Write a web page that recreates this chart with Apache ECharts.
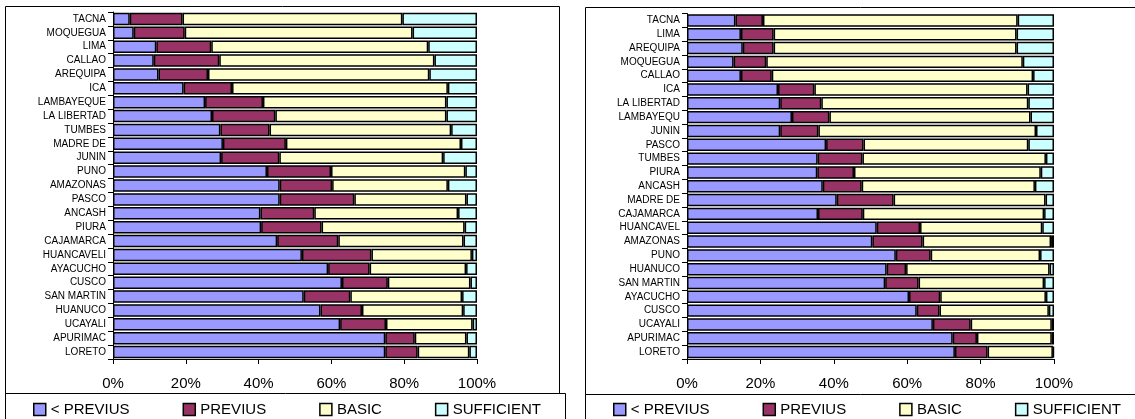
<!DOCTYPE html>
<html>
<head>
<meta charset="utf-8">
<style>
  html, body { margin: 0; padding: 0; background: #fff; }
  #chart { width: 1135px; height: 419px; }
</style>
<script src="https://cdn.jsdelivr.net/npm/echarts@6/dist/echarts.min.js"></script>
</head>
<body>
<div id="chart"></div>
<script>
// Achievement levels (%) by region, two periods, sorted top to bottom
const levels = ['< PREVIUS', 'PREVIUS', 'BASIC', 'SUFFICIENT'];
const levelColors = ['#9999FF', '#993366', '#FFFFCC', '#CCFFFF'];
const tickLabels = ['0%', '20%', '40%', '60%', '80%', '100%'];

// Left panel
const regionsA = ['TACNA', 'MOQUEGUA', 'LIMA', 'CALLAO', 'AREQUIPA', 'ICA', 'LAMBAYEQUE', 'LA LIBERTAD',
  'TUMBES', 'MADRE DE', 'JUNIN', 'PUNO', 'AMAZONAS', 'PASCO', 'ANCASH', 'PIURA', 'CAJAMARCA',
  'HUANCAVELI', 'AYACUCHO', 'CUSCO', 'SAN MARTIN', 'HUANUCO', 'UCAYALI', 'APURIMAC', 'LORETO'];
const belowPreviusA = [4.6, 5.7, 11.9, 11.2, 12.5, 19.4, 25.3, 27.2, 29.5, 30.2, 29.7, 42.3, 45.8, 45.8,
  40.5, 40.7, 45.1, 51.9, 59.1, 62.9, 52.4, 57.0, 62.4, 74.8, 74.8];
const previusA = [14.5, 14.0, 15.1, 18.0, 13.6, 13.3, 15.9, 17.4, 13.5, 17.3, 16.0, 17.6, 14.4, 20.5,
  14.8, 16.6, 16.8, 19.1, 11.4, 12.6, 12.8, 11.4, 12.6, 8.1, 8.9];
const basicA = [60.4, 62.6, 59.6, 59.1, 60.8, 59.3, 50.4, 47.0, 49.9, 48.1, 45.0, 36.9, 31.8, 30.8,
  39.5, 39.3, 34.4, 27.6, 26.5, 22.7, 30.7, 27.8, 23.8, 14.2, 14.2];
const sufficientA = [20.5, 17.7, 13.4, 11.7, 13.1, 8.0, 8.4, 8.4, 7.1, 4.4, 9.3, 3.2, 8.0, 2.9,
  5.2, 3.4, 3.7, 1.4, 3.0, 1.8, 4.1, 3.8, 1.2, 2.9, 2.1];

// Right panel
const regionsB = ['TACNA', 'LIMA', 'AREQUIPA', 'MOQUEGUA', 'CALLAO', 'ICA', 'LA LIBERTAD', 'LAMBAYEQU',
  'JUNIN', 'PASCO', 'TUMBES', 'PIURA', 'ANCASH', 'MADRE DE', 'CAJAMARCA', 'HUANCAVEL', 'AMAZONAS',
  'PUNO', 'HUANUCO', 'SAN MARTIN', 'AYACUCHO', 'CUSCO', 'UCAYALI', 'APURIMAC', 'LORETO'];
const belowPreviusB = [13.2, 14.7, 15.2, 12.7, 14.7, 24.8, 25.4, 28.6, 25.4, 37.9, 35.6, 35.5, 37.0,
  40.8, 35.7, 51.7, 50.5, 56.9, 54.4, 54.0, 60.5, 62.6, 67.0, 72.4, 73.0];
const previusB = [7.5, 8.9, 8.4, 8.9, 8.4, 9.9, 11.2, 10.2, 10.4, 10.2, 12.2, 10.0, 10.6,
  15.5, 12.2, 11.8, 13.7, 9.5, 5.3, 9.1, 8.5, 6.2, 10.3, 6.6, 8.9];
const basicB = [69.4, 66.2, 66.2, 69.9, 71.2, 58.1, 56.4, 54.8, 59.3, 44.9, 50.0, 50.9, 47.2,
  41.4, 49.4, 33.3, 35.0, 29.8, 39.1, 34.2, 28.8, 29.8, 22.1, 20.4, 17.8];
const sufficientB = [9.9, 10.2, 10.2, 8.5, 5.7, 7.2, 7.0, 6.4, 4.9, 7.0, 2.2, 3.6, 5.2,
  2.3, 2.7, 3.2, 0.8, 3.8, 1.2, 2.7, 2.2, 1.4, 0.6, 0.6, 0.3];

const FONT = 'Liberation Sans, Arial, sans-serif';
const seriesA = [belowPreviusA, previusA, basicA, sufficientA];
const seriesB = [belowPreviusB, previusB, basicB, sufficientB];

function valueAxis(gridIndex) {
  return {
    type: 'value', gridIndex, min: 0, max: 100, interval: 20,
    axisLine: { show: true, lineStyle: { color: '#000', width: 1 } },
    axisTick: { show: true, length: 5, lineStyle: { color: '#000' } },
    splitLine: { show: false },
    axisLabel: {
      margin: 17, color: '#000', fontFamily: FONT, fontSize: 15,
      formatter: v => tickLabels[Math.round(v / 20)]
    }
  };
}

function categoryAxis(gridIndex, cats) {
  return {
    type: 'category', gridIndex, data: cats, inverse: true,
    axisLine: { show: true, lineStyle: { color: '#000', width: 1 } },
    axisTick: { show: true, length: 5, lineStyle: { color: '#000' } },
    axisLabel: { margin: 7, color: '#000', fontFamily: FONT, fontSize: 10, interval: 0 }
  };
}

function barSeries(values, idx, gridIdx) {
  return {
    type: 'bar', name: levels[idx], stack: 'g' + gridIdx,
    xAxisIndex: gridIdx, yAxisIndex: gridIdx,
    data: values, barCategoryGap: '10%',
    itemStyle: { color: levelColors[idx], borderColor: '#000', borderWidth: 1.5 },
    emphasis: { disabled: true },
    animation: false
  };
}

function legendAt(left) {
  return {
    data: levels, left, top: 397, padding: 5,
    icon: 'rect', itemWidth: 12, itemHeight: 12, itemGap: 53,
    itemStyle: { borderColor: '#000', borderWidth: 1.5 },
    textStyle: { color: '#000', fontFamily: FONT, fontSize: 15 },
    selectedMode: false
  };
}

const chart = echarts.init(document.getElementById('chart'), null, { renderer: 'canvas' });
chart.setOption({
  backgroundColor: '#fff',
  animation: false,
  grid: [
    { left: 113, top: 12, width: 364, height: 347 },
    { left: 687, top: 13.5, width: 367, height: 345.5 }
  ],
  xAxis: [valueAxis(0), valueAxis(1)],
  yAxis: [categoryAxis(0, regionsA), categoryAxis(1, regionsB)],
  legend: [legendAt(28), legendAt(608)],
  series: [
    ...seriesA.map((v, i) => barSeries(v, i, 0)),
    ...seriesB.map((v, i) => barSeries(v, i, 1))
  ],
  graphic: [
    // chart frames and legend boxes
    { type: 'polyline', silent: true, shape: { points: [[5.5, 419], [5.5, 6.5], [559.5, 6.5], [559.5, 393.5]] },
      style: { stroke: '#000', lineWidth: 1, fill: null } },
    { type: 'polyline', silent: true, shape: { points: [[5.5, 393.5], [565.5, 393.5], [565.5, 419]] },
      style: { stroke: '#000', lineWidth: 1, fill: null } },
    { type: 'polyline', silent: true, shape: { points: [[585.5, 419], [585.5, 7.5], [1135, 7.5]] },
      style: { stroke: '#000', lineWidth: 1, fill: null } },
    { type: 'line', silent: true, shape: { x1: 585.5, y1: 394.5, x2: 1135, y2: 394.5 },
      style: { stroke: '#000', lineWidth: 1 } }
  ]
});
</script>
</body>
</html>
